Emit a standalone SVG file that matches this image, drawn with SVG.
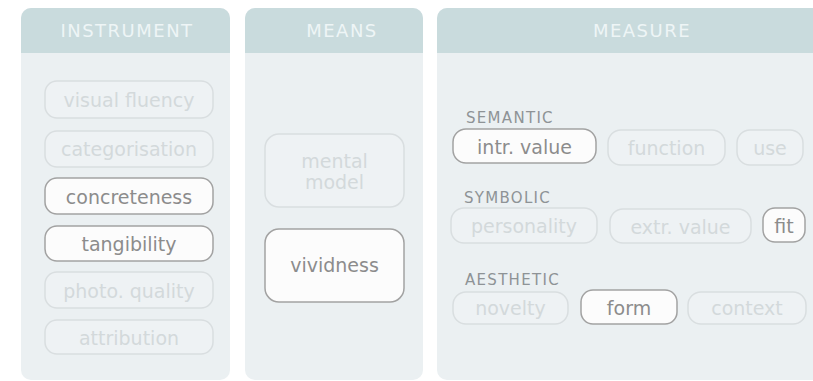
<svg xmlns="http://www.w3.org/2000/svg" width="813" height="381" viewBox="0 0 813 381">
<style>
.body{fill:#ebf0f2}
.head{fill:#c9dbdd}
.ht{font-family:"DejaVu Sans",sans-serif;font-size:18px;fill:#eef5f6;letter-spacing:1.5px;text-anchor:middle}
.lbl{font-family:"DejaVu Sans",sans-serif;font-size:15px;fill:#8e9396;letter-spacing:1.3px}
.off rect{fill:#eef2f4;stroke:#d9dee0;stroke-width:1.5}
.off text{fill:#d3d9db}
.on rect{fill:#fcfcfc;stroke:#a2a2a2;stroke-width:1.5}
.on text{fill:#8c8c8c}
.n text{font-family:"DejaVu Sans",sans-serif;font-size:19px;text-anchor:middle}
</style>
<rect width="813" height="381" fill="#ffffff"/>
<g id="panel-instrument">
<rect class="body" x="21" y="8" width="209" height="372" rx="10"/>
<path class="head" d="M21,53V18a10,10 0 0 1 10,-10H220a10,10 0 0 1 10,10V53Z"/>
<text class="ht" x="127" y="37">INSTRUMENT</text>
</g>
<g id="panel-means">
<rect class="body" x="245" y="8" width="178" height="372" rx="10"/>
<path class="head" d="M245,53V18a10,10 0 0 1 10,-10H413a10,10 0 0 1 10,10V53Z"/>
<text class="ht" x="342" y="37">MEANS</text>
</g>
<g id="panel-measure">
<rect class="body" x="437" y="8" width="420" height="372" rx="10"/>
<path class="head" d="M437,53V18a10,10 0 0 1 10,-10H857V53Z"/>
<text class="ht" x="642" y="37">MEASURE</text>
<text class="lbl" x="466" y="123">SEMANTIC</text>
<text class="lbl" x="464" y="203">SYMBOLIC</text>
<text class="lbl" x="465" y="285">AESTHETIC</text>
</g>
<g id="n-visual-fluency" class="n off"><rect x="45" y="81" width="168" height="37" rx="12"/><text x="129" y="107">visual fluency</text></g>
<g id="n-categorisation" class="n off"><rect x="45" y="131" width="168" height="36" rx="12"/><text x="129" y="156">categorisation</text></g>
<g id="n-concreteness" class="n on"><rect x="45" y="178" width="168" height="36" rx="12"/><text x="129" y="204">concreteness</text></g>
<g id="n-tangibility" class="n on"><rect x="45" y="226" width="168" height="35" rx="12"/><text x="129" y="251">tangibility</text></g>
<g id="n-photo-quality" class="n off"><rect x="45" y="272" width="168" height="36" rx="12"/><text x="129" y="298">photo. quality</text></g>
<g id="n-attribution" class="n off"><rect x="45" y="320" width="168" height="34" rx="12"/><text x="129" y="345">attribution</text></g>
<g id="n-mental-model" class="n off"><rect x="265" y="134" width="139" height="73" rx="14"/><text x="334.5" y="168">mental</text><text x="334.5" y="189">model</text></g>
<g id="n-vividness" class="n on"><rect x="265" y="229" width="139" height="73" rx="14"/><text x="334.5" y="272">vividness</text></g>
<g id="n-intr-value" class="n on"><rect x="453" y="129" width="143" height="34" rx="13"/><text x="524.5" y="154">intr. value</text></g>
<g id="n-function" class="n off"><rect x="608" y="130" width="117" height="35" rx="13"/><text x="666.5" y="155">function</text></g>
<g id="n-use" class="n off"><rect x="737" y="130" width="66" height="35" rx="13"/><text x="770" y="155">use</text></g>
<g id="n-personality" class="n off"><rect x="451" y="208" width="146" height="35" rx="13"/><text x="524" y="233">personality</text></g>
<g id="n-extr-value" class="n off"><rect x="610" y="209" width="141" height="34" rx="13"/><text x="680.5" y="234">extr. value</text></g>
<g id="n-fit" class="n on"><rect x="763" y="208" width="42" height="34" rx="12"/><text x="784" y="233">fit</text></g>
<g id="n-novelty" class="n off"><rect x="453" y="292" width="115" height="32" rx="13"/><text x="510.5" y="315">novelty</text></g>
<g id="n-form" class="n on"><rect x="581" y="290" width="96" height="34" rx="12"/><text x="629" y="315">form</text></g>
<g id="n-context" class="n off"><rect x="688" y="292" width="118" height="32" rx="13"/><text x="747" y="315">context</text></g>
<g id="connectors"></g>
</svg>
